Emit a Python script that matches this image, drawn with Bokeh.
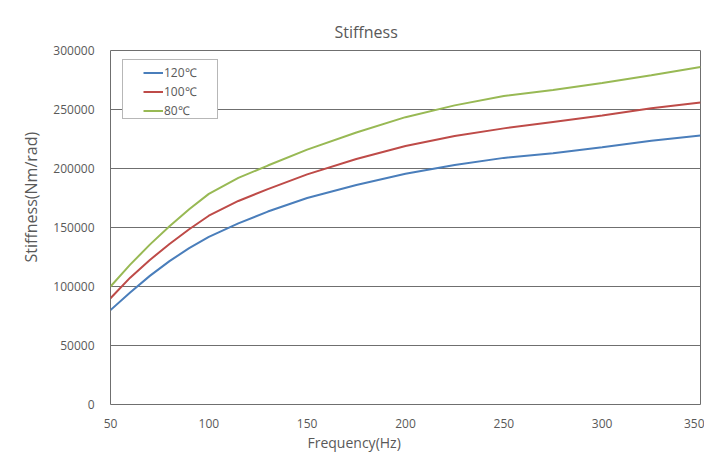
from bokeh.plotting import figure
from bokeh.models import Title, Legend, LegendItem, Range1d, FixedTicker, BasicTickFormatter
from bokeh.embed import file_html
from bokeh.resources import INLINE

# ---- data ----
freq = [50, 60, 70, 80, 90, 100, 115, 130, 150, 175, 200, 225, 250, 275, 300, 325, 350]
stiff_120 = [80000, 95000, 109000, 121500, 132500, 142000, 153500, 163500, 175000,
             186000, 195500, 203000, 209000, 213000, 218000, 223500, 228000]
stiff_100 = [90000, 107500, 122500, 136000, 148500, 160000, 172500, 182500, 195000,
             208000, 219000, 227500, 234000, 239500, 245000, 251000, 256000]
stiff_80 = [100000, 118500, 135500, 151000, 165500, 178500, 192000, 202500, 216000,
            230500, 243500, 253500, 261500, 266500, 272500, 279000, 286000]
series_labels = ["120\u2103", "100\u2103", "80\u2103"]
x_ticks = [50, 100, 150, 200, 250, 300, 350]
y_ticks = [0, 50000, 100000, 150000, 200000, 250000, 300000]

FONT = "Open Sans"
GREY_TEXT = "#595959"
GRID = "#6f6f6f"
colors = ["#4a7ebb", "#be4b48", "#98b954"]

p = figure(width=704, height=454, output_backend="svg", toolbar_location=None,
           x_range=Range1d(50, 350), y_range=Range1d(0, 300000),
           min_border_left=110, min_border_right=4, min_border_top=50, min_border_bottom=50)
p.background_fill_color = "white"
p.border_fill_color = "white"
p.outline_line_color = GRID
p.outline_line_width = 1

# axes
p.xaxis.ticker = FixedTicker(ticks=x_ticks)
p.yaxis.ticker = FixedTicker(ticks=y_ticks)
p.yaxis.formatter = BasicTickFormatter(use_scientific=False)
for ax in (p.xaxis[0], p.yaxis[0]):
    ax.axis_line_color = None
    ax.major_tick_line_color = None
    ax.minor_tick_line_color = None
    ax.major_label_text_font = FONT
    ax.major_label_text_font_size = "12px"
    ax.major_label_text_color = GREY_TEXT
p.xaxis.major_label_standoff = 8
p.yaxis.major_label_standoff = 10

p.xgrid.grid_line_color = None
p.ygrid.grid_line_color = GRID
p.ygrid.grid_line_width = 1

# titles
t = Title(text="Stiffness", align="left", offset=224, text_font=FONT,
          text_font_size="16px", text_font_style="normal", text_color=GREY_TEXT, standoff=15)
p.add_layout(t, "above")
xt = Title(text="Frequency(Hz)", align="left", offset=197, text_font=FONT,
           text_font_size="14px", text_font_style="normal", text_color=GREY_TEXT, standoff=0)
p.add_layout(xt, "below")
yt = Title(text="Stiffness(Nm/rad)", align="left", offset=142, text_font=FONT,
           text_font_size="16px", text_font_style="normal", text_color=GREY_TEXT, standoff=18)
p.add_layout(yt, "left")

# lines
renderers = []
for ys, c in zip([stiff_120, stiff_100, stiff_80], colors):
    r = p.line(freq, ys, line_color=c, line_width=2)
    renderers.append(r)

# legend frame (box only)
box_r = p.line(freq, stiff_120, line_alpha=0)
box_leg = Legend(items=[LegendItem(label=" ", renderers=[box_r])],
                 location=(12, 285), padding=0, spacing=0, margin=0,
                 glyph_width=94, glyph_height=58, label_standoff=0, label_width=0,
                 label_height=1, label_text_font_size="1px",
                 border_line_color=GRID, border_line_width=1,
                 background_fill_color="white", background_fill_alpha=1)
p.add_layout(box_leg, "center")

leg = Legend(items=[LegendItem(label=lab, renderers=[r]) for lab, r in zip(series_labels, renderers)],
             location=(33, 284), padding=0, spacing=0, margin=0,
             glyph_width=20, glyph_height=19, label_height=19, label_standoff=1,
             label_text_font=FONT, label_text_font_size="12px", label_text_color=GREY_TEXT,
             border_line_color=None, background_fill_alpha=0)
p.add_layout(leg, "center")

open("out.html", "w").write(file_html(p, INLINE))
